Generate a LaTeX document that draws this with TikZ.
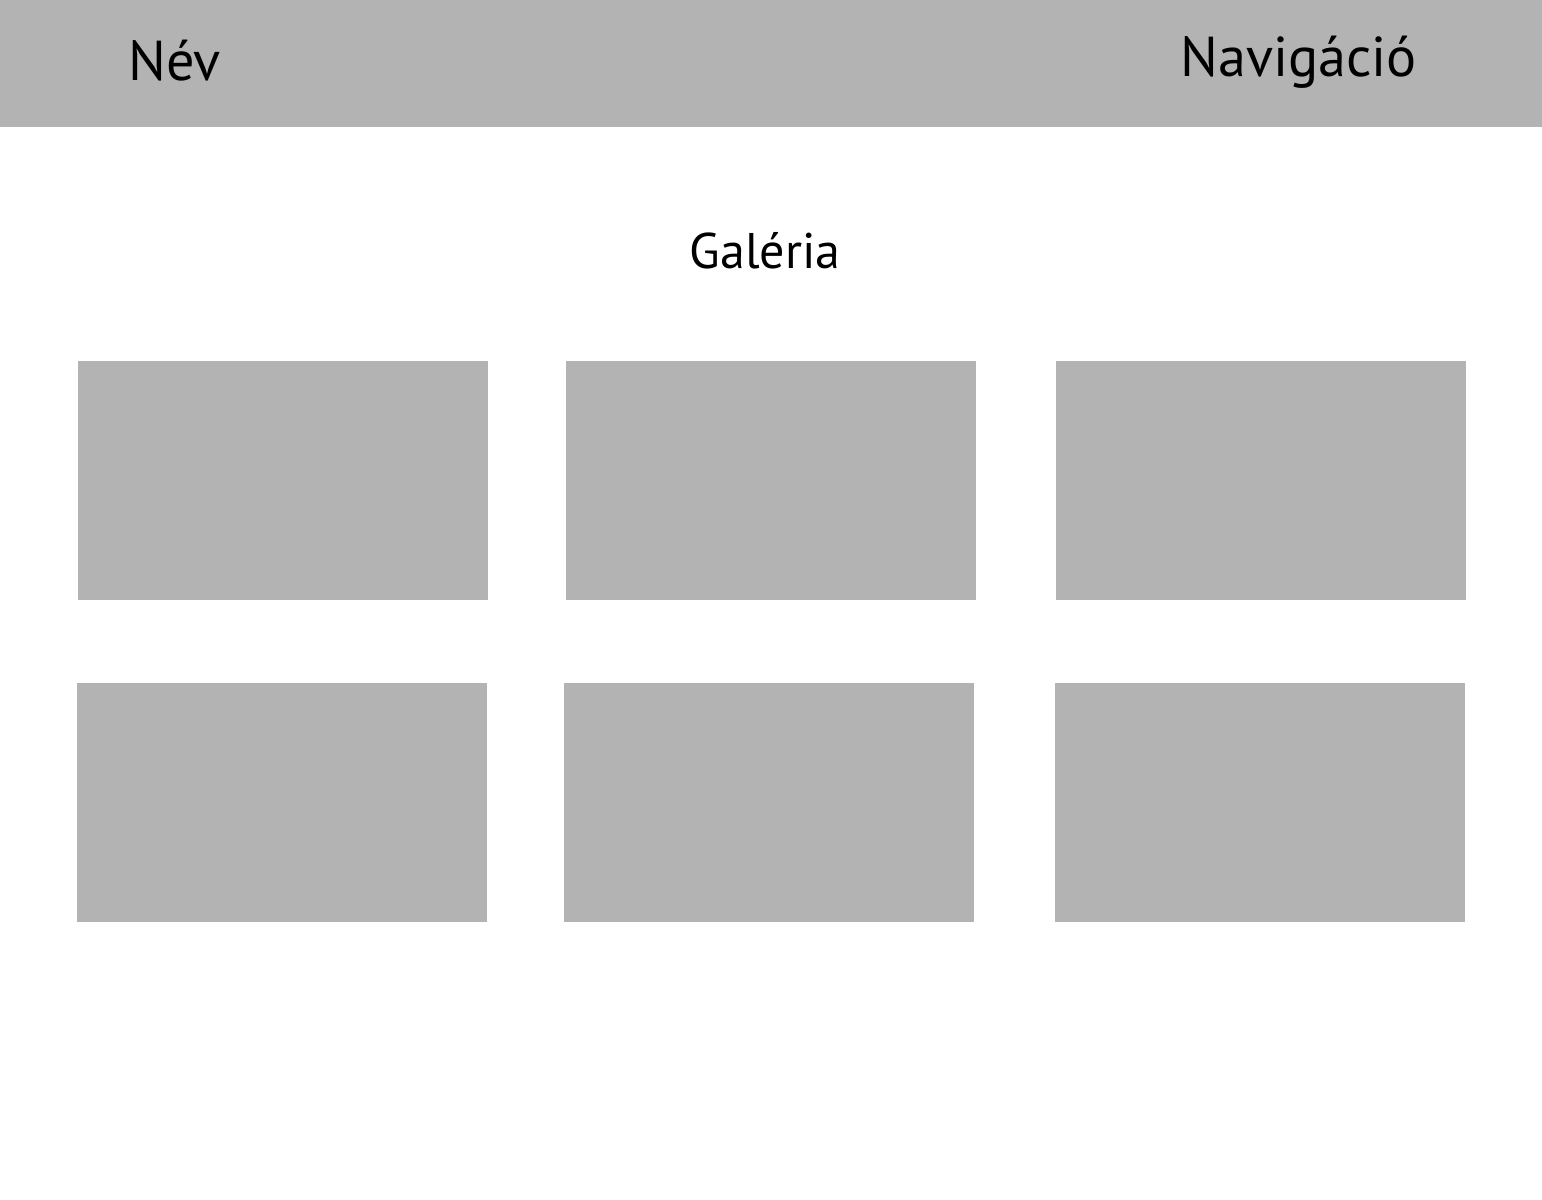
\documentclass[tikz,border=0pt]{standalone}
\usepackage{fontspec}
\setmainfont{PT Sans}
\definecolor{wiregray}{RGB}{179,179,179}

\begin{document}
\begin{tikzpicture}[x=0.02cm,y=-0.02cm,
		box/.style={fill=wiregray, draw=none},
		label/.style={inner sep=0pt, font=\fontsize{32}{36}\selectfont}]
		% Page size of the wireframe
		\useasboundingbox (0,0) rectangle (1542,1200);
		% Header bar
		\fill[wiregray] (0,0) rectangle (1542,127);
		\node[label, anchor=base west] (name) at (128,80) {Név};
		\node[label, anchor=base west] (nav) at (1180,76) {Navigáció};
		% Gallery title
		\node[label, anchor=base, font=\fontsize{28.5}{34}\selectfont] (title) at (765,268) {Galéria};
		% Gallery images, two rows of three
		\foreach \x/\y/\n in {78/361/a, 566/361/b, 1056/361/c, 77/683/d, 564/683/e, 1055/683/f}
		{\fill[box] (\x,\y) rectangle ++(410,239) coordinate (img-\n);};
	\end{tikzpicture}
\end{document}
